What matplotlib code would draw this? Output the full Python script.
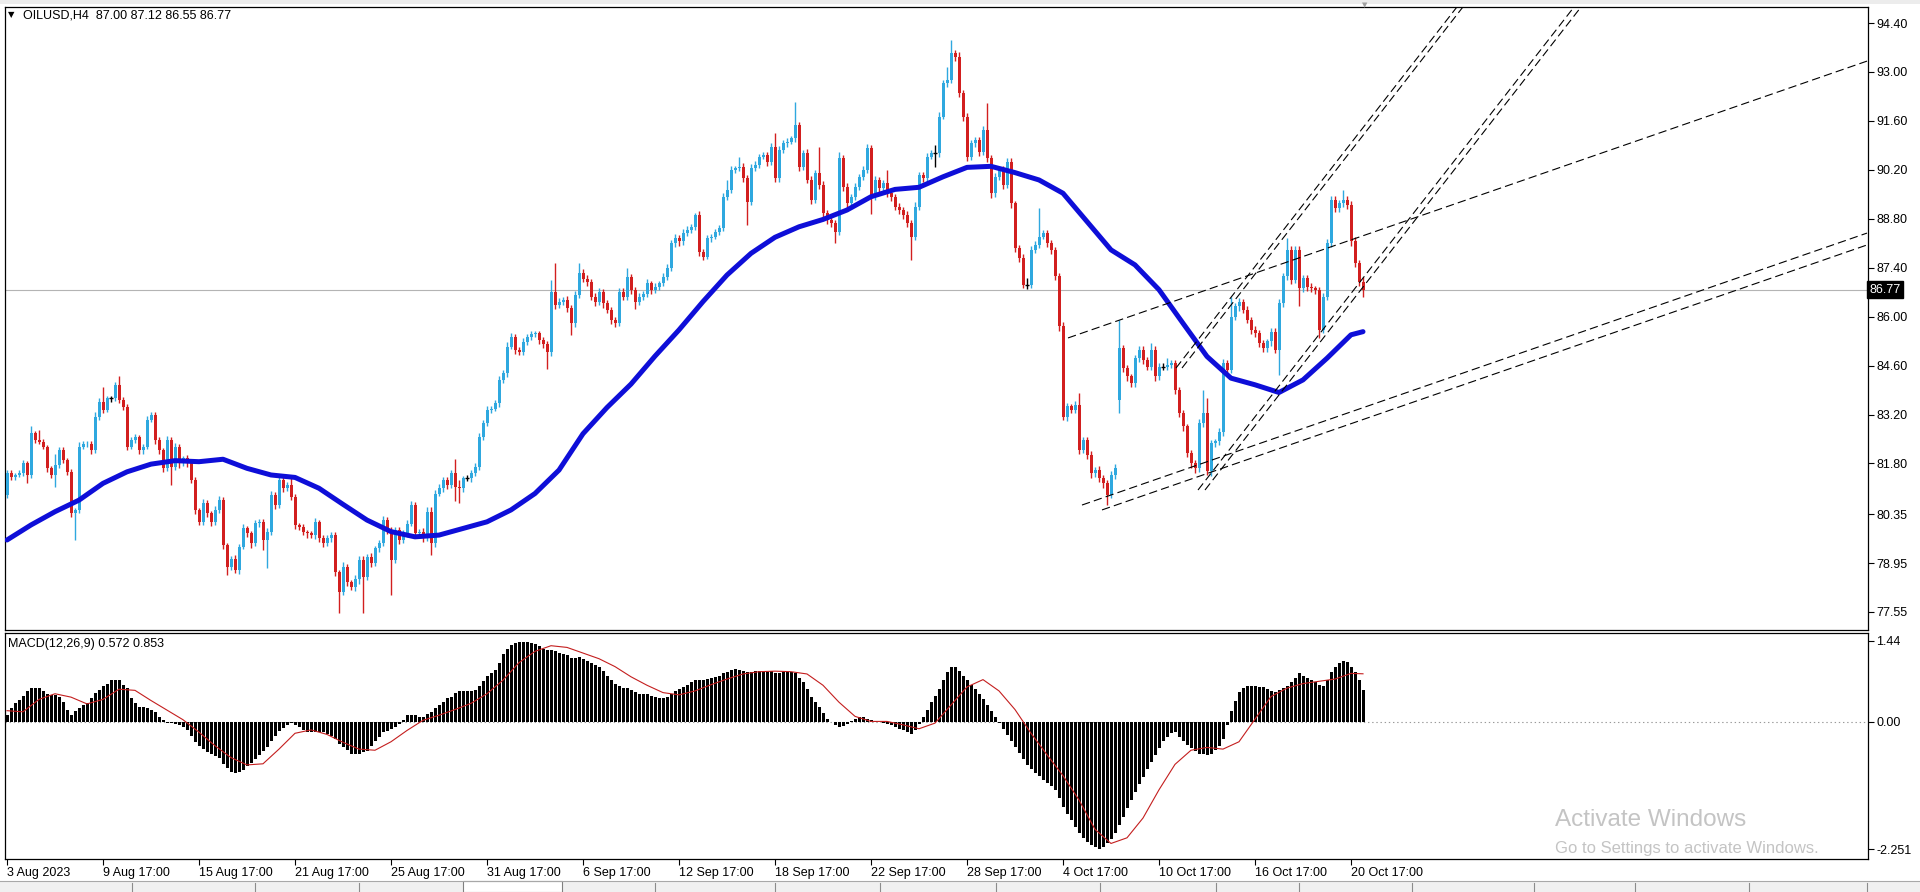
import matplotlib
matplotlib.use("Agg")
import matplotlib.pyplot as plt
import matplotlib.transforms as mtransforms
from matplotlib.patches import Rectangle
from matplotlib.lines import Line2D
import numpy as np

plt.rcParams["font.family"] = ["Liberation Sans", "DejaVu Sans"]
plt.rcParams["lines.scale_dashes"] = False

# ---- OILUSD H4 candles, one value per bar (bar 0 = 3 Aug 2023) ----
closes = [
    81.52, 81.42, 81.47, 81.52, 81.80, 81.47, 82.66, 82.47, 82.42, 82.28,
    81.66, 81.47, 81.75, 82.18, 81.90, 81.56, 80.37, 80.47, 82.28, 82.36,
    82.37, 82.18, 83.14, 83.57, 83.33, 83.66, 83.66, 84.04, 83.61, 83.42,
    82.28, 82.47, 82.56, 82.18, 82.28, 83.04, 83.18, 82.47, 82.18, 81.66,
    82.47, 81.71, 82.28, 81.80, 81.95, 81.80, 81.33, 80.47, 80.13, 80.66,
    80.37, 80.13, 80.47, 80.75, 79.47, 78.85, 79.08, 78.75, 79.42, 79.94,
    79.80, 79.51, 80.09, 80.13, 79.61, 79.85, 80.90, 80.61, 81.33, 81.09,
    81.18, 80.85, 80.04, 79.99, 79.85, 79.80, 79.75, 80.13, 79.66, 79.51,
    79.66, 79.75, 78.70, 78.13, 78.85, 78.40, 78.27, 78.50, 79.04, 78.56,
    79.13, 78.95, 79.37, 79.51, 80.18, 79.89, 79.04, 79.89, 79.61, 79.80,
    80.08, 80.61, 79.80, 79.85, 79.66, 80.42, 79.51, 80.94, 81.09, 81.33,
    81.18, 81.52, 81.13, 81.09, 81.37, 81.37, 81.52, 81.71, 82.56, 82.95,
    83.33, 83.37, 83.52, 84.19, 84.38, 85.14, 85.42, 85.04, 84.99, 85.28,
    85.42, 85.50, 85.52, 85.33, 85.23, 84.99, 86.71, 86.33, 86.43, 86.48,
    86.24, 85.81, 86.62, 87.24, 87.09, 87.00, 86.57, 86.43, 86.71, 86.38,
    86.19, 85.90, 85.81, 86.71, 86.57, 87.14, 86.76, 86.43, 86.57, 86.66,
    86.95, 86.76, 86.86, 86.95, 87.14, 87.38, 88.10, 88.25, 88.15, 88.40,
    88.48, 88.57, 88.91, 87.86, 87.72, 88.24, 88.29, 88.43, 88.53, 89.43,
    89.62, 90.20, 90.24, 90.29, 89.96, 89.29, 90.24, 90.34, 90.58, 90.62,
    90.43, 90.86, 89.96, 90.77, 90.96, 91.01, 91.10, 91.48, 90.29, 90.67,
    89.91, 89.34, 90.10, 89.77, 88.96, 88.77, 88.67, 88.43, 90.53, 89.72,
    89.24, 89.43, 89.72, 90.00, 90.20, 90.81, 89.43, 89.91, 89.67, 89.81,
    89.53, 89.43, 89.15, 89.05, 88.91, 88.67, 88.29, 89.15, 90.05, 89.96,
    90.58, 90.67, 90.67, 91.72, 92.67, 92.77, 93.53, 93.44, 92.39, 91.72,
    90.58, 90.96, 91.05, 90.72, 91.34, 90.53, 89.53, 90.00, 90.20, 89.77,
    90.43, 89.24, 87.95, 87.67, 86.91, 86.91, 87.91, 88.05, 88.29, 88.39,
    88.10, 87.91, 87.15, 85.72, 83.14, 83.43, 83.33, 83.48, 82.19, 82.47,
    82.05, 81.52, 81.62, 81.38, 81.24, 80.90, 81.47, 81.66, 85.10, 84.52,
    84.29, 84.10, 84.81, 85.05, 84.76, 84.57, 85.05, 84.29, 84.57, 84.57,
    84.62, 84.67, 83.90, 83.24, 82.86, 82.09, 81.81, 81.66, 82.95, 83.24,
    81.57, 82.38, 82.43, 82.71, 84.67, 84.48, 86.00, 86.29, 86.43, 86.19,
    85.91, 85.62, 85.53, 85.24, 85.10, 85.29, 85.57, 85.05, 86.38, 87.15,
    87.91, 87.05, 87.91, 86.81, 87.10, 86.86, 86.81, 86.76, 85.62, 86.57,
    88.10, 89.34, 89.10, 89.24, 89.34, 89.20, 88.15, 87.53, 87.00, 86.77,
]
first_open = 80.90
gap_opens = {278: 83.62}  # Monday 9 Oct gap

# wick lengths in cents above / below the body
upper_wick = [
    10, 8, 6, 8, 10, 8, 20, 6, 29, 8,
    6, 8, 33, 10, 8, 6, 8, 6, 12, 8,
    6, 8, 12, 10, 43, 8, 6, 10, 26, 8,
    8, 10, 8, 6, 8, 12, 10, 8, 10, 6,
    12, 8, 10, 8, 6, 10, 8, 8, 6, 12,
    8, 6, 10, 12, 8, 6, 8, 10, 8, 12,
    8, 6, 10, 8, 8, 10, 12, 8, 10, 8,
    10, 24, 8, 6, 8, 6, 8, 10, 6, 8,
    8, 10, 8, 6, 12, 8, 6, 10, 10, 12,
    8, 10, 8, 10, 12, 8, 8, 10, 8, 10,
    10, 12, 8, 8, 10, 14, 14, 10, 12, 8,
    8, 10, 40, 20, 8, 10, 8, 10, 12, 10,
    10, 8, 10, 12, 10, 12, 10, 8, 8, 10,
    8, 10, 8, 8, 10, 8, 33, 81, 10, 8,
    10, 8, 10, 29, 12, 10, 8, 10, 12, 8,
    10, 8, 8, 12, 10, 24, 8, 10, 10, 8,
    12, 8, 10, 8, 10, 12, 10, 12, 8, 10,
    10, 8, 6, 10, 8, 10, 8, 8, 10, 12,
    29, 10, 8, 29, 10, 8, 12, 10, 8, 10,
    10, 12, 38, 10, 8, 10, 8, 67, 10, 10,
    12, 10, 10, 76, 10, 8, 8, 10, 19, 10,
    10, 8, 10, 8, 10, 14, 10, 10, 8, 10,
    38, 10, 8, 10, 8, 10, 10, 12, 10, 10,
    10, 10, 24, 12, 10, 38, 38, 10, 12, 10,
    10, 10, 8, 10, 12, 76, 10, 10, 8, 12,
    10, 12, 8, 10, 12, 20, 10, 12, 81, 10,
    8, 10, 8, 10, 12, 10, 8, 12, 33, 10,
    10, 12, 8, 10, 8, 10, 10, 12, 81, 10,
    10, 8, 10, 12, 10, 8, 20, 10, 10, 10,
    20, 10, 10, 8, 10, 8, 10, 10, 12, 67,
    43, 10, 8, 10, 12, 10, 57, 10, 10, 8,
    10, 8, 10, 8, 10, 8, 10, 10, 12, 10,
    33, 10, 12, 10, 10, 8, 10, 8, 10, 12,
    12, 10, 10, 10, 29, 10, 10, 12, 10, 12,
]
lower_wick = [
    10, 8, 10, 6, 8, 24, 10, 8, 6, 8,
    10, 8, 33, 8, 10, 8, 10, 76, 8, 6,
    8, 10, 8, 10, 8, 6, 10, 8, 8, 10,
    10, 8, 8, 12, 10, 8, 6, 10, 12, 10,
    8, 52, 10, 12, 8, 10, 8, 12, 10, 8,
    10, 12, 8, 10, 12, 24, 10, 8, 10, 8,
    10, 12, 8, 10, 29, 80, 10, 12, 8, 10,
    8, 10, 12, 8, 10, 12, 8, 10, 12, 10,
    8, 10, 12, 62, 10, 12, 10, 12, 15, 105,
    10, 12, 8, 10, 8, 12, 100, 10, 12, 8,
    10, 8, 12, 10, 12, 8, 33, 10, 8, 10,
    12, 8, 40, 43, 10, 8, 10, 8, 10, 8,
    8, 10, 8, 10, 8, 10, 8, 12, 10, 8,
    8, 10, 8, 10, 12, 48, 12, 10, 8, 10,
    12, 33, 10, 8, 10, 12, 10, 12, 10, 12,
    10, 12, 10, 8, 10, 10, 12, 20, 10, 8,
    10, 12, 8, 10, 8, 10, 8, 10, 12, 10,
    10, 8, 10, 12, 10, 8, 10, 8, 10, 8,
    10, 8, 10, 8, 12, 67, 10, 8, 10, 8,
    12, 10, 12, 10, 8, 10, 8, 10, 12, 10,
    10, 12, 10, 12, 10, 12, 10, 33, 10, 12,
    12, 10, 8, 10, 8, 10, 48, 10, 12, 10,
    10, 12, 10, 10, 12, 10, 67, 10, 10, 12,
    10, 8, 38, 10, 8, 10, 10, 12, 10, 12,
    12, 10, 10, 12, 10, 12, 14, 10, 10, 12,
    10, 12, 10, 12, 10, 12, 10, 10, 10, 8,
    10, 12, 10, 12, 10, 12, 10, 10, 12, 10,
    12, 14, 10, 12, 14, 30, 10, 12, 38, 10,
    12, 10, 12, 10, 12, 10, 10, 12, 10, 10,
    10, 10, 12, 10, 12, 12, 14, 12, 10, 12,
    10, 12, 10, 10, 12, 10, 10, 10, 12, 10,
    10, 12, 12, 10, 12, 10, 12, 10, 72, 10,
    10, 12, 10, 52, 10, 12, 10, 12, 24, 10,
    10, 10, 12, 10, 10, 12, 12, 10, 12, 22,
]

# moving average (blue), read every 6 bars plus the last bar
ma_vals = [
    79.61, 80.04, 80.42, 80.75, 81.23, 81.56, 81.78, 81.88, 81.85, 81.92,
    81.66, 81.47, 81.40, 81.09, 80.63, 80.18, 79.85, 79.70, 79.75, 79.94,
    80.13, 80.47, 80.94, 81.61, 82.65, 83.40, 84.07, 84.87, 85.62, 86.43,
    87.19, 87.81, 88.27, 88.57, 88.78, 89.05, 89.43, 89.64, 89.70, 90.00,
    90.27, 90.30, 90.12, 89.91, 89.53, 88.72, 87.91, 87.48, 86.77, 85.81,
    84.86, 84.24, 84.05, 83.83, 84.19, 84.81, 85.48, 85.57,
]

# MACD(12,26,9) main histogram, one value per bar
macd_hist = [
    0.12, 0.24, 0.34, 0.39, 0.46, 0.54, 0.60, 0.60, 0.61, 0.54,
    0.50, 0.48, 0.48, 0.44, 0.36, 0.22, 0.12, 0.20, 0.24, 0.30,
    0.33, 0.42, 0.51, 0.56, 0.63, 0.68, 0.74, 0.75, 0.74, 0.66,
    0.60, 0.43, 0.33, 0.26, 0.26, 0.24, 0.21, 0.18, 0.08, 0.04,
    -0.01, -0.02, -0.04, -0.06, -0.08, -0.15, -0.24, -0.36, -0.42, -0.48,
    -0.54, -0.57, -0.60, -0.63, -0.75, -0.82, -0.88, -0.90, -0.88, -0.85,
    -0.78, -0.72, -0.66, -0.58, -0.52, -0.45, -0.33, -0.25, -0.16, -0.10,
    -0.05, -0.02, -0.06, -0.09, -0.14, -0.18, -0.18, -0.18, -0.18, -0.18,
    -0.21, -0.24, -0.30, -0.39, -0.45, -0.50, -0.57, -0.57, -0.56, -0.54,
    -0.51, -0.42, -0.33, -0.27, -0.18, -0.16, -0.12, -0.08, -0.03, 0.03,
    0.12, 0.12, 0.12, 0.09, 0.09, 0.15, 0.18, 0.24, 0.30, 0.36,
    0.42, 0.45, 0.52, 0.54, 0.54, 0.54, 0.54, 0.56, 0.63, 0.72,
    0.81, 0.87, 0.92, 1.05, 1.20, 1.30, 1.36, 1.40, 1.42, 1.42,
    1.41, 1.40, 1.38, 1.34, 1.30, 1.27, 1.28, 1.25, 1.22, 1.20,
    1.18, 1.14, 1.14, 1.15, 1.12, 1.08, 1.04, 1.00, 0.97, 0.90,
    0.82, 0.75, 0.68, 0.64, 0.60, 0.60, 0.56, 0.53, 0.50, 0.49,
    0.49, 0.46, 0.44, 0.42, 0.42, 0.45, 0.49, 0.54, 0.58, 0.62,
    0.66, 0.70, 0.75, 0.74, 0.74, 0.76, 0.78, 0.80, 0.82, 0.86,
    0.89, 0.92, 0.93, 0.92, 0.90, 0.88, 0.89, 0.90, 0.90, 0.90,
    0.89, 0.90, 0.87, 0.87, 0.88, 0.89, 0.88, 0.86, 0.78, 0.70,
    0.58, 0.45, 0.36, 0.26, 0.16, 0.06, 0.00, -0.06, -0.08, -0.07,
    -0.04, 0.02, 0.05, 0.08, 0.08, 0.06, 0.04, 0.02, 0.00, -0.02,
    -0.04, -0.06, -0.09, -0.12, -0.15, -0.18, -0.22, -0.15, -0.04, 0.08,
    0.22, 0.35, 0.46, 0.58, 0.75, 0.88, 0.97, 0.97, 0.90, 0.82,
    0.74, 0.66, 0.58, 0.49, 0.40, 0.30, 0.20, 0.08, -0.02, -0.12,
    -0.23, -0.34, -0.45, -0.55, -0.66, -0.77, -0.84, -0.90, -0.95, -1.02,
    -1.08, -1.14, -1.21, -1.35, -1.50, -1.62, -1.74, -1.86, -1.97, -2.05,
    -2.12, -2.18, -2.22, -2.25, -2.22, -2.15, -2.07, -1.97, -1.82, -1.68,
    -1.53, -1.38, -1.24, -1.10, -0.97, -0.84, -0.71, -0.58, -0.46, -0.34,
    -0.26, -0.20, -0.18, -0.26, -0.33, -0.40, -0.46, -0.52, -0.56, -0.57,
    -0.58, -0.56, -0.50, -0.42, -0.30, -0.05, 0.20, 0.38, 0.53, 0.60,
    0.64, 0.64, 0.64, 0.62, 0.62, 0.58, 0.55, 0.53, 0.56, 0.60,
    0.64, 0.70, 0.78, 0.86, 0.82, 0.78, 0.75, 0.70, 0.66, 0.64,
    0.75, 0.88, 0.97, 1.05, 1.08, 1.06, 0.98, 0.88, 0.75, 0.57,
]

# MACD signal line, read every 4 bars plus the last bar
macd_signal = [
    0.20, 0.18, 0.40, 0.50, 0.44, 0.32, 0.40, 0.58, 0.56, 0.38,
    0.21, 0.04, -0.18, -0.42, -0.63, -0.76, -0.74, -0.48, -0.20, -0.14,
    -0.22, -0.36, -0.48, -0.50, -0.35, -0.15, 0.03, 0.12, 0.22, 0.33,
    0.50, 0.74, 1.05, 1.25, 1.35, 1.32, 1.22, 1.12, 0.98, 0.80,
    0.65, 0.52, 0.48, 0.55, 0.66, 0.76, 0.85, 0.89, 0.90, 0.89,
    0.85, 0.65, 0.35, 0.10, 0.01, 0.01, -0.05, -0.12, -0.02, 0.30,
    0.62, 0.75, 0.55, 0.22, -0.20, -0.58, -0.95, -1.38, -1.90, -2.15,
    -2.05, -1.70, -1.20, -0.75, -0.50, -0.45, -0.48, -0.35, 0.05, 0.45,
    0.60, 0.68, 0.72, 0.76, 0.86, 0.853,
]

# hand-drawn trend lines: (bar, price) -> (bar, price)
trend_lines = [
    (268.75, 80.61, 465.0, 88.39),
    (273.75, 80.47, 465.0, 88.05),
    (265.25, 85.39, 465.0, 93.31),
    (292.25, 84.53, 368.0, 95.67),
    (293.75, 84.53, 369.5, 95.67),
    (297.75, 81.04, 400.0, 96.07),
    (299.50, 81.04, 401.75, 96.07),
]

price_ticks = [94.40, 93.00, 91.60, 90.20, 88.80, 87.40, 86.00, 84.60,
               83.20, 81.80, 80.35, 78.95, 77.55]
macd_ticks = [1.44, 0.00, -2.251]
macd_tick_labels = ["1.44", "0.00", "-2.251"]
time_labels = ["3 Aug 2023", "9 Aug 17:00", "15 Aug 17:00", "21 Aug 17:00",
               "25 Aug 17:00", "31 Aug 17:00", "6 Sep 17:00", "12 Sep 17:00",
               "18 Sep 17:00", "22 Sep 17:00", "28 Sep 17:00", "4 Oct 17:00",
               "10 Oct 17:00", "16 Oct 17:00", "20 Oct 17:00"]
bars_per_label = 24
last_price = 86.77

BULL = "#2FA8DF"
BEAR = "#D21F1F"

W, H = 1920, 892
fig = plt.figure(figsize=(W / 100, H / 100), dpi=100)


def px_axes(l, t, r, b):
    return fig.add_axes([l / W, 1 - b / H, (r - l) / W, (b - t) / H])


ax = px_axes(5, 7, 1868, 630)
axm = px_axes(5, 633, 1868, 859)
for a in (ax, axm):
    a.set_xlim(-0.5, 465.25)
    for s in a.spines.values():
        s.set_linewidth(0.9)
        s.set_color("black")
ax.set_ylim(77.035, 94.858)
axm.set_ylim(-2.425, 1.575)

# candles
c = np.array(closes)
n = len(c)
x = np.arange(n)
o = np.r_[first_open, c[:-1]]
for k, v in gap_opens.items():
    o[k] = v
hi = np.maximum(o, c) + np.array(upper_wick[:n]) / 100.0
lo = np.minimum(o, c) - np.array(lower_wick[:n]) / 100.0
doji = np.isclose(o, c)
bull = (c > o) & ~doji
bear = (c < o) & ~doji

for mask, col in ((bull, BULL), (bear, BEAR)):
    ax.vlines(x[mask], lo[mask], hi[mask], color=col, lw=1.0, zorder=2)
    ax.bar(x[mask], np.abs(c - o)[mask], bottom=np.minimum(o, c)[mask],
           width=0.75, color=col, linewidth=0, zorder=3)
ax.vlines(x[doji], lo[doji], hi[doji], color="black", lw=1.0, zorder=2)
ax.hlines(c[doji], x[doji] - 0.45, x[doji] + 0.45, color="black", lw=1.0, zorder=3)

# moving average
ma_bars = list(range(0, 6 * (len(ma_vals) - 1), 6)) + [n - 1]
ax.plot(ma_bars, ma_vals, color="#0E0ED8", lw=3.6, solid_capstyle="round",
        solid_joinstyle="round", zorder=4)

# current price line
ax.axhline(last_price, color="#B4B4B4", lw=0.8, zorder=1)

# trend lines
for x0, y0, x1, y1 in trend_lines:
    ax.plot([x0, x1], [y0, y1], color="black", lw=0.8, dashes=(6, 3), zorder=5)

# price axis
ax.set_xticks([])
ax.yaxis.tick_right()
ax.set_yticks(price_ticks)
ax.set_yticklabels([f"{v:.2f}" for v in price_ticks])
ax.tick_params(axis="y", direction="out", length=4, width=0.8, pad=2,
               labelsize=9, colors="black")
tr = mtransforms.blended_transform_factory(ax.transAxes, ax.transData)
ax.text(1.0007, last_price, "86.77", transform=tr, fontsize=9, color="white",
        va="center", ha="left",
        bbox=dict(boxstyle="square,pad=0.18", fc="black", ec="black"))

# MACD panel
axm.bar(x, macd_hist[:n], width=0.75, color="black", linewidth=0, zorder=2)
sig_bars = list(range(0, 4 * (len(macd_signal) - 1), 4)) + [n - 1]
axm.plot(sig_bars, macd_signal, color="#C41E1E", lw=0.8, zorder=3)
axm.axhline(0, color="#9A9A9A", lw=0.8, dashes=(1, 2), zorder=1)
axm.yaxis.tick_right()
axm.set_yticks(macd_ticks)
axm.set_yticklabels(macd_tick_labels)
axm.tick_params(axis="y", direction="out", length=4, width=0.8, pad=2,
                labelsize=9)
axm.set_xticks([i * bars_per_label for i in range(len(time_labels))])
axm.set_xticklabels(time_labels, ha="left")
axm.tick_params(axis="x", direction="out", length=4, width=0.8, pad=1.5,
                labelsize=9)

# titles
fig.text(8 / W, 1 - 15 / H, "\u25BC", fontsize=6, va="center", ha="left",
         family="DejaVu Sans")
fig.text(23 / W, 1 - 15 / H, "OILUSD,H4  87.00 87.12 86.55 86.77", fontsize=9,
         va="center", ha="left")
fig.text(8 / W, 1 - 644 / H, "MACD(12,26,9) 0.572 0.853", fontsize=9,
         va="center", ha="left")

# window chrome: top strip, chart shift marker, bottom tab bar
fig.add_artist(Rectangle((0, 1 - 4 / H), 1, 4 / H, transform=fig.transFigure,
                         fc="#ECECEC", ec="none"))
fig.text(1365 / W, 1 - 5 / H, "\u25BC", fontsize=5, color="#A0A0A0",
         ha="center", va="center", family="DejaVu Sans")
fig.add_artist(Rectangle((0, 0), 1, 11 / H, transform=fig.transFigure,
                         fc="#F0F0F0", ec="none"))
fig.add_artist(Line2D([0, 1], [11 / H, 11 / H], transform=fig.transFigure,
                      color="#A8A8A8", lw=0.8))
fig.add_artist(Rectangle((463 / W, 0), 99 / W, 11 / H, transform=fig.transFigure,
                         fc="white", ec="#808080", lw=0.8))
for sx in [132, 255, 359, 655, 775, 880, 996, 1100, 1216, 1299, 1412, 1534,
           1635, 1749, 1867]:
    fig.add_artist(Line2D([sx / W, sx / W], [0, 9 / H], transform=fig.transFigure,
                          color="#8C8C8C", lw=0.8))

# Windows activation watermark
fig.text(1555 / W, 1 - 820 / H, "Activate Windows", fontsize=17.5,
         color="#C4C4C4", ha="left", va="center")
fig.text(1555 / W, 1 - 849 / H, "Go to Settings to activate Windows.",
         fontsize=12, color="#C4C4C4", ha="left", va="center")

fig.savefig("out.png", dpi=100, facecolor="white")
